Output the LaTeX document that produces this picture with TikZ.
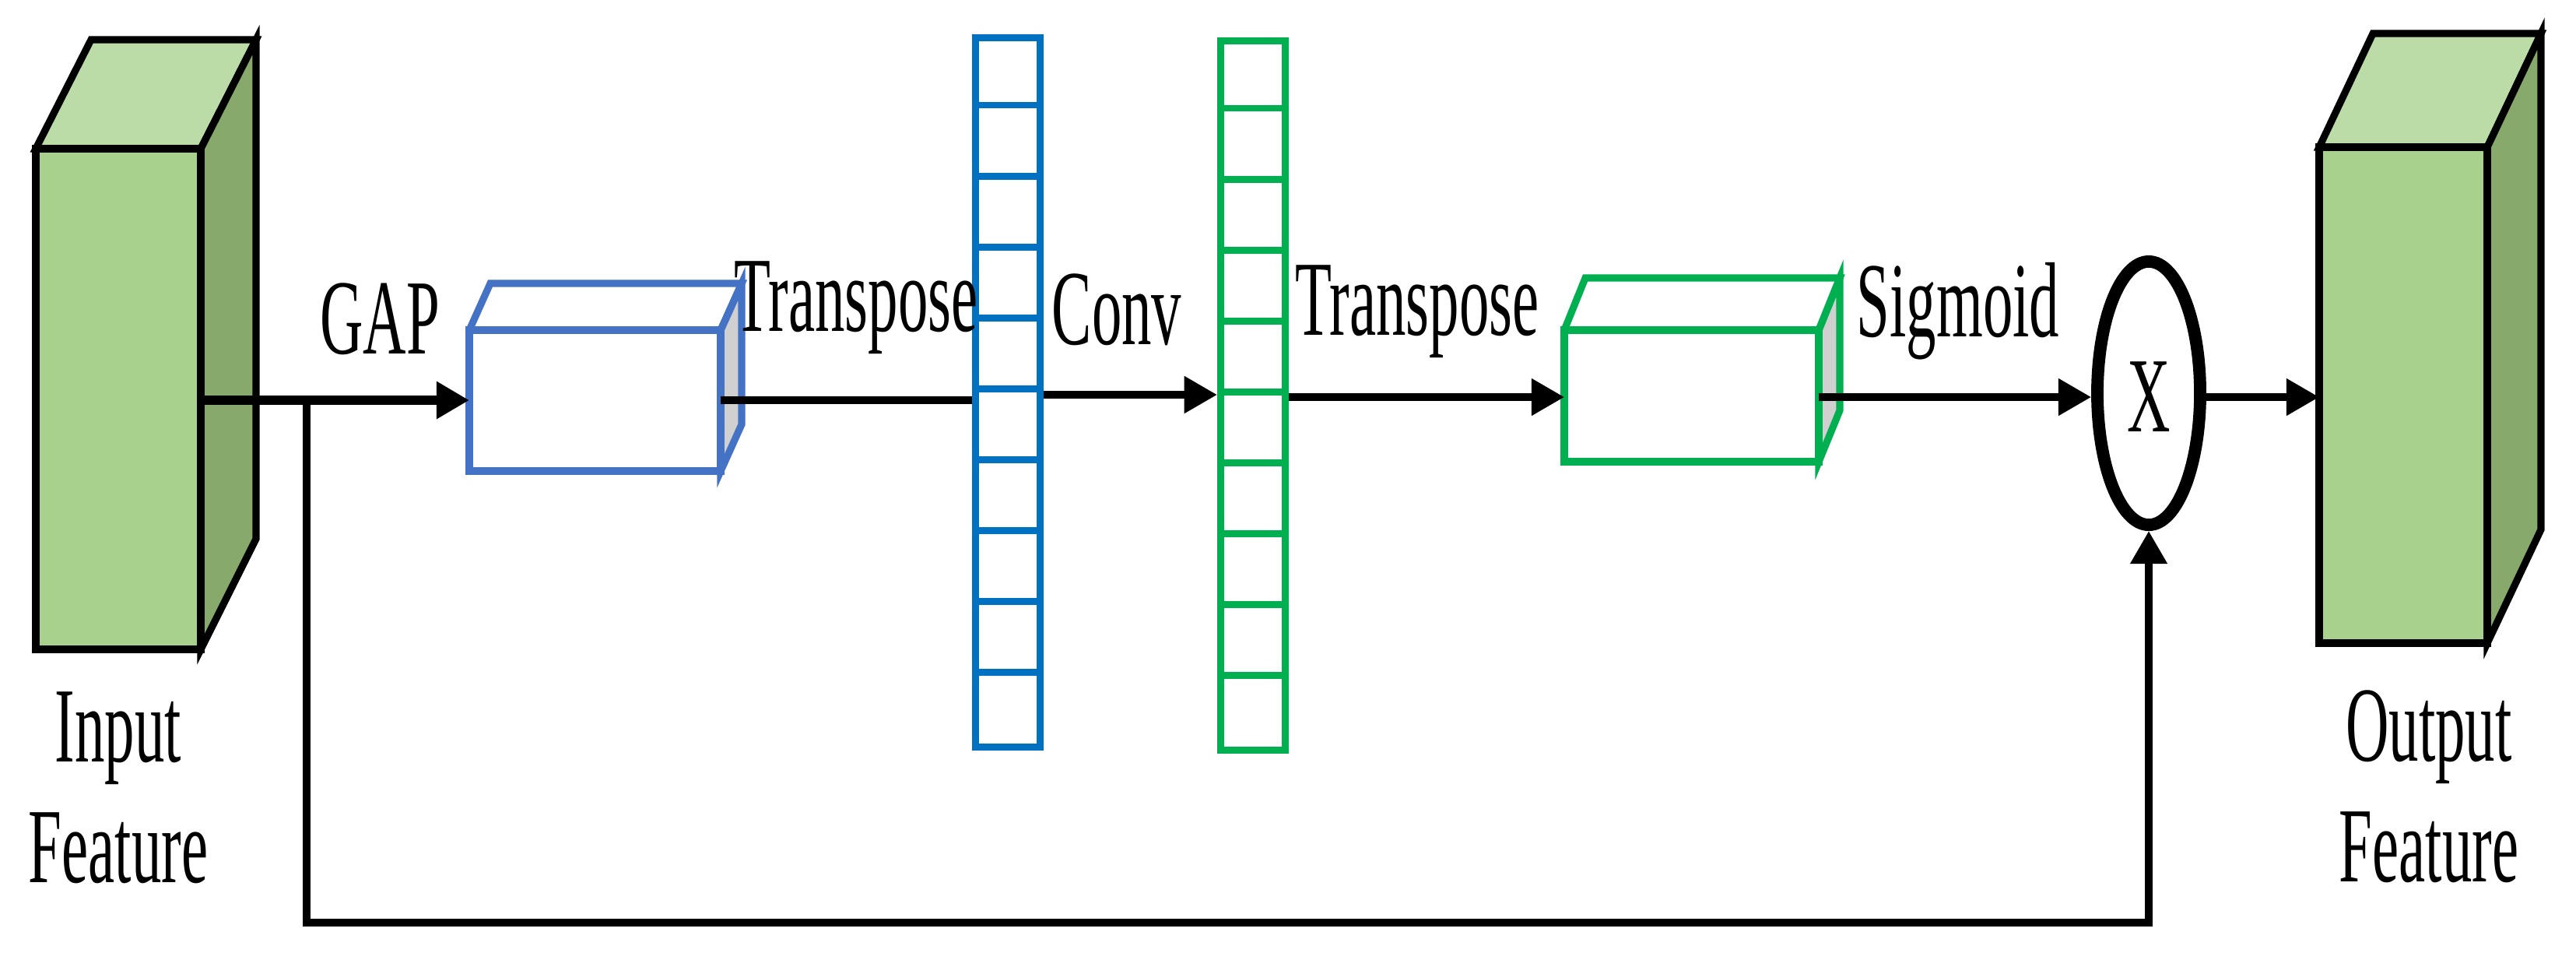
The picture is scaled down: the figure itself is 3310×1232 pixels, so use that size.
\documentclass[tikz,border=0pt]{standalone}
\usepackage{fontspec}
\setmainfont{Liberation Serif}
\usetikzlibrary{arrows.meta,shapes.geometric}
\newcommand{\sq}[1]{\scalebox{0.56}[1]{#1}}
\definecolor{gfront}{HTML}{A9D18E}
\definecolor{gtop}{HTML}{BBDCA6}
\definecolor{gside}{HTML}{87A96B}
\definecolor{bbox}{HTML}{4472C4}
\definecolor{bcol}{HTML}{0070C0}
\definecolor{gcol}{HTML}{00B050}
\definecolor{sgray}{HTML}{D0D0D0}
\begin{document}
\begin{tikzpicture}[x=0.01cm,y=-0.01cm,
  lbl/.style={font=\fontsize{39}{46}\selectfont, inner sep=0pt, align=center},
  blk/.style={line width=2.6pt, line join=miter, draw=black},
  conn/.style={line width=2.6pt, -{Triangle[length=12pt,width=13pt]}},
  col/.style={draw, line width=2.6pt, minimum width=0.83cm, minimum height=9.1cm, inner sep=0pt}]
\useasboundingbox (0,0) rectangle (3310,1232);
% input block
\filldraw[blk, fill=gtop] (46,191) -- (117,51) -- (329,51) -- (258,191) -- cycle;
\filldraw[blk, fill=gside] (258,191) -- (329,51) -- (329,692) -- (258,834) -- cycle;
\filldraw[blk, fill=gfront] (46,191) rectangle (258,834);
\coordinate (inp) at (258,514);
\node[lbl] (tin) at (152,1012) {\sq{Input}\\[-2pt]\sq{Feature}};
% blue box
\filldraw[line width=2.6pt, draw=bbox, fill=sgray] (926,424) -- (953,364) -- (953,545) -- (926,605) -- cycle;
\draw[line width=2.6pt, draw=bbox] (603,424) -- (630,364) -- (953,364) -- (926,424);
\draw[line width=2.6pt, draw=bbox] (603,424) rectangle (926,605);
\coordinate (bbl) at (603,514);
\coordinate (bbr) at (926,514);
% blue column
\node[col, draw=bcol] (bc) at (1295,504) {};
\foreach \i in {1,...,9} \draw[line width=2.4pt, draw=bcol] ([yshift=-\i*0.91cm]bc.north west) -- ([yshift=-\i*0.91cm]bc.north east);
% green column
\node[col, draw=gcol] (gc) at (1610,508) {};
\foreach \i in {1,...,9} \draw[line width=2.4pt, draw=gcol] ([yshift=-\i*0.91cm]gc.north west) -- ([yshift=-\i*0.91cm]gc.north east);
% green box
\filldraw[line width=2.6pt, draw=gcol, fill=sgray] (2337,424) -- (2364,357) -- (2364,527) -- (2337,593) -- cycle;
\draw[line width=2.6pt, draw=gcol] (2010,424) -- (2037,357) -- (2364,357) -- (2337,424);
\draw[line width=2.6pt, draw=gcol] (2010,424) rectangle (2337,593);
\coordinate (gbl) at (2010,510);
\coordinate (gbr) at (2337,510);
% multiply
\node[draw, line width=4.5pt, ellipse, minimum width=1.32cm, minimum height=3.38cm, inner sep=0pt] (mul) at (2761,505) {};
\node[lbl] at (2761,510) {\sq{X}};
% output block
\filldraw[blk, fill=gtop] (2980,189) -- (3049,43) -- (3265,43) -- (3196,189) -- cycle;
\filldraw[blk, fill=gside] (3196,189) -- (3265,43) -- (3265,680) -- (3196,826) -- cycle;
\filldraw[blk, fill=gfront] (2980,189) rectangle (3196,826);
\coordinate (outp) at (2980,510);
\node[lbl] (tout) at (3121,1010) {\sq{Output}\\[-2pt]\sq{Feature}};
% labels
\node[lbl] (lgap) at (488,410) {\sq{GAP}};
\node[lbl] (lt1) at (1100,395) {\sq{Transpose}};
\node[lbl] (lconv) at (1435,398) {\sq{Conv}};
\node[lbl] (lt2) at (1821,400) {\sq{Transpose}};
\node[lbl] (lsig) at (2516,400) {\sq{Sigmoid}};
% connectors
\draw[conn, line width=3.4pt] (inp) -- (bbl);
\draw[line width=2.6pt] (bbr) -- (bc.west |- bbr);
\draw[conn] (bc.east |- 0,507) -- (gc.west |- 0,507);
\draw[conn] (gc.east |- gbl) -- (gbl);
\draw[conn] (gbr) -- (mul.west |- gbr);
\draw[conn] (mul.east |- outp) -- (outp);
\coordinate (br) at (394,514);
\coordinate (bl) at (394,1185);
\draw[conn] (br) -- (bl) -| (mul.south);
\end{tikzpicture}
\end{document}
